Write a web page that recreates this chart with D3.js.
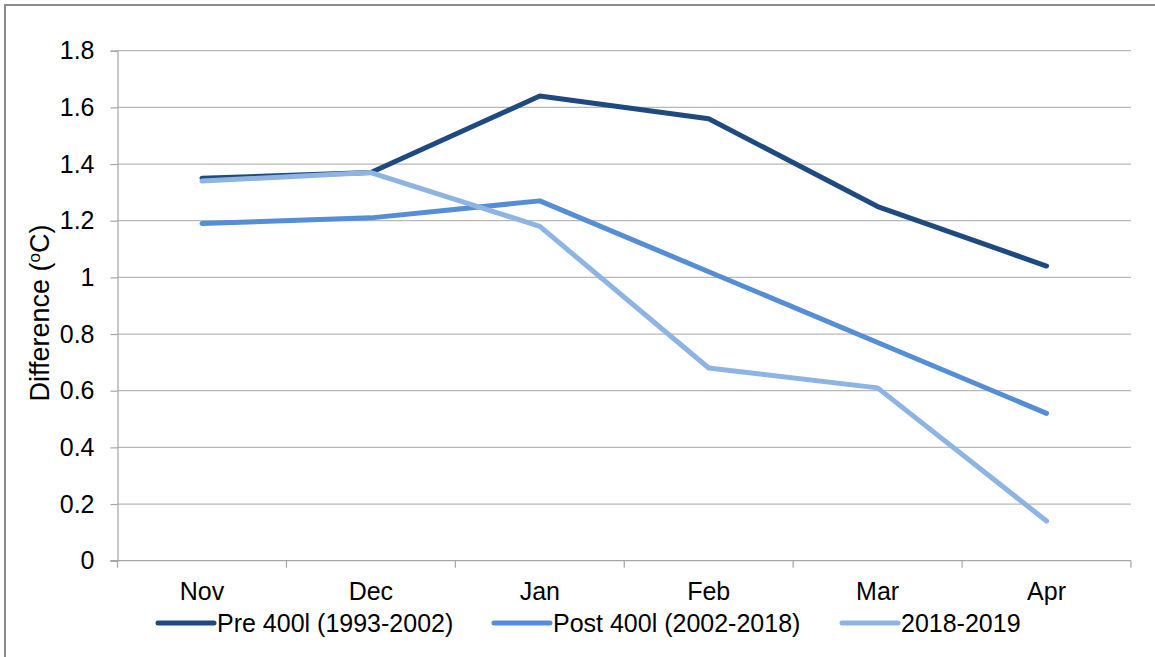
<!DOCTYPE html>
<html>
<head>
<meta charset="utf-8">
<script src="https://cdn.jsdelivr.net/npm/d3@7"></script>
<style>
  body { margin: 0; background: #fff; }
  svg { display: block; font-family: "Liberation Sans", Arial, sans-serif; }
</style>
</head>
<body>
<div id="chart"></div>
<script>
const months = ["Nov", "Dec", "Jan", "Feb", "Mar", "Apr"];
const pre400 = [1.35, 1.37, 1.64, 1.56, 1.25, 1.04];
const post400 = [1.19, 1.21, 1.27, 1.02, 0.77, 0.52];
const season1819 = [1.34, 1.37, 1.18, 0.68, 0.61, 0.14];
const yTicks = [0, 0.2, 0.4, 0.6, 0.8, 1, 1.2, 1.4, 1.6, 1.8];

const seriesList = [
  { name: "Pre 400l (1993-2002)", values: pre400, color: "#1f4a7f" },
  { name: "Post 400l (2002-2018)", values: post400, color: "#558ed5" },
  { name: "2018-2019", values: season1819, color: "#8db4e2" }
];

const w = 1155, h = 657;
const plot = { left: 117.5, right: 1131, top: 50.7, bottom: 560.7 };

const svg = d3.select("#chart").append("svg")
  .attr("width", w)
  .attr("height", h);

// outer chart frame (runs off the bottom/right edge)
svg.append("rect")
  .attr("x", 5).attr("y", 5)
  .attr("width", w + 20).attr("height", h + 20)
  .attr("fill", "#fff")
  .attr("stroke", "#8c8c8c")
  .attr("stroke-width", 2);

const x = d3.scaleBand().domain(months).range([plot.left, plot.right]).padding(0);
const y = d3.scaleLinear().domain([0, 1.8]).range([plot.bottom, plot.top]);

// gridlines
svg.append("g")
  .selectAll("line")
  .data(yTicks.filter(d => d > 0))
  .enter().append("line")
  .attr("x1", plot.left).attr("x2", plot.right)
  .attr("y1", d => y(d)).attr("y2", d => y(d))
  .attr("stroke", "#b8b8b8")
  .attr("stroke-width", 1.2);

// y axis
const yAxis = d3.axisLeft(y).tickValues(yTicks).tickSize(7).tickPadding(16)
  .tickFormat(d => d3.format("~g")(d));
const yG = svg.append("g")
  .attr("transform", `translate(${plot.left},0)`)
  .call(yAxis);
yG.select(".domain").attr("stroke", "#a6a6a6").attr("stroke-width", 1.2);
yG.selectAll(".tick line").attr("stroke", "#a6a6a6").attr("stroke-width", 1.2);
yG.selectAll(".tick text")
  .attr("fill", "#000")
  .style("font-size", "25px")
  .style("font-family", "'Liberation Sans', Arial, sans-serif");

// x axis: boundary ticks, labels centred in bands
const xG = svg.append("g").attr("transform", `translate(0,${plot.bottom})`);
xG.append("line")
  .attr("x1", plot.left - 7).attr("x2", plot.right)
  .attr("stroke", "#a6a6a6").attr("stroke-width", 1.2);
const bounds = months.map(m => x(m)).concat([x(months[months.length - 1]) + x.bandwidth()]);
xG.selectAll(".btick")
  .data(bounds)
  .enter().append("line")
  .attr("class", "btick")
  .attr("x1", d => d).attr("x2", d => d)
  .attr("y1", 0).attr("y2", 7)
  .attr("stroke", "#a6a6a6").attr("stroke-width", 1.2);
xG.selectAll(".xlabel")
  .data(months)
  .enter().append("text")
  .attr("class", "xlabel")
  .attr("x", d => x(d) + x.bandwidth() / 2)
  .attr("y", 39.5)
  .attr("text-anchor", "middle")
  .style("font-size", "25px")
  .text(d => d);

// y label
const yLabel = svg.append("text")
  .attr("transform", "translate(49,313) rotate(-90)")
  .attr("text-anchor", "middle")
  .style("font-size", "27px");
yLabel.append("tspan").text("Difference (");
yLabel.append("tspan").attr("dy", -9).style("font-size", "17px").text("o");
yLabel.append("tspan").attr("dy", 9).text("C)");

// lines
const line = d3.line()
  .x((d, i) => x(months[i]) + x.bandwidth() / 2)
  .y(d => y(d));

svg.append("g")
  .selectAll("path")
  .data(seriesList)
  .enter().append("path")
  .attr("d", d => line(d.values))
  .attr("fill", "none")
  .attr("stroke", d => d.color)
  .attr("stroke-width", 5)
  .attr("stroke-linecap", "round")
  .attr("stroke-linejoin", "round");

// legend (white box over the bottom of the axis labels)
const legend = svg.append("g");
legend.append("rect")
  .attr("x", 150).attr("y", 601)
  .attr("width", 890).attr("height", 45)
  .attr("fill", "#fff");
const legendX = [158, 494, 842];
seriesList.forEach((s, i) => {
  const g = legend.append("g").attr("transform", `translate(${legendX[i]},623)`);
  g.append("line")
    .attr("x1", 0).attr("x2", 56)
    .attr("stroke", s.color)
    .attr("stroke-width", 5)
    .attr("stroke-linecap", "round");
  g.append("text")
    .attr("x", 59)
    .attr("y", 9)
    .style("font-size", "25px")
    .text(s.name);
});
</script>
</body>
</html>
